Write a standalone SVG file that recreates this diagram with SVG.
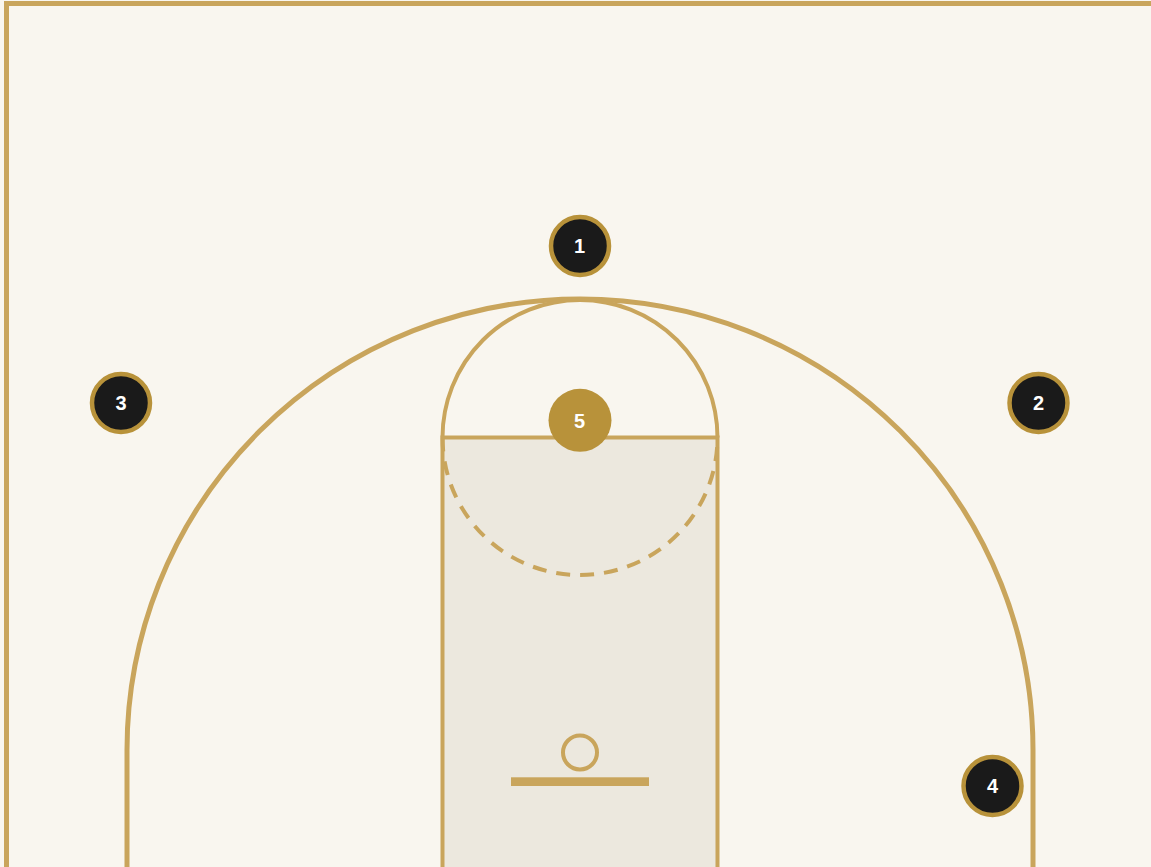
<svg xmlns="http://www.w3.org/2000/svg" width="1151" height="867" viewBox="0 0 1151 867">
<style>
.l{fill:none;stroke:#c9a55c}
.p circle{fill:#1a1a1a;stroke:#b8923a;stroke-width:4.500}
text{font-family:"Liberation Sans",Arial,sans-serif;font-size:20px;font-weight:700;fill:#fff;text-anchor:middle}
</style>
<rect width="1151" height="867" fill="#f9f6ef"/>
<g id="court">
<rect x="442.500" y="437.500" width="275" height="440" class="l" style="fill:#ece8de" stroke-width="4"/>
<rect x="6.500" y="3.500" width="1200" height="900" class="l" stroke-width="5"/>
<path class="l" stroke-width="5" d="M127 880V750A453 451 0 0 1 1033 750V880"/>
<path class="l" stroke-width="4" d="M442.500 437.500A137.500 137.500 0 0 1 717.500 437.500"/>
<path class="l" stroke-width="4" stroke-dasharray="14 10" d="M442.500 437.500A137.500 137.500 0 0 0 717.500 437.500"/>
<circle class="l" cx="580" cy="752.500" r="17" stroke-width="4"/>
<rect x="511" y="777.300" width="138" height="8.700" fill="#c9a55c"/>
</g>
<g id="player-1" class="p"><circle cx="580" cy="246" r="29"/><text x="579.500" y="253">1</text></g>
<g id="player-2" class="p"><circle cx="1038.500" cy="403" r="29"/><text x="1038.500" y="410">2</text></g>
<g id="player-3" class="p"><circle cx="121" cy="403" r="29"/><text x="121" y="410">3</text></g>
<g id="player-4" class="p"><circle cx="992.500" cy="786" r="29"/><text x="992.500" y="793">4</text></g>
<g id="player-5"><circle cx="580" cy="420.300" r="31.500" fill="#b8923a"/><text x="579.500" y="427.500">5</text></g>
</svg>
